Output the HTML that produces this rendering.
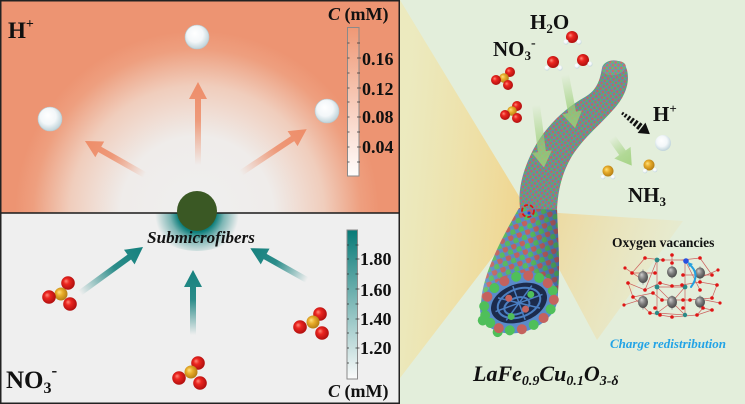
<!DOCTYPE html>
<html><head><meta charset="utf-8">
<style>
html,body{margin:0;padding:0;background:#fff;}
svg{display:block;}
text{font-family:"Liberation Serif",serif;font-weight:bold;fill:#111;}
</style></head>
<body>
<svg width="745" height="404" viewBox="0 0 745 404" xmlns="http://www.w3.org/2000/svg">
<defs>
  <radialGradient id="topbg" gradientUnits="userSpaceOnUse" cx="197" cy="213" r="182">
    <stop offset="0" stop-color="#efefef"/>
    <stop offset="0.42" stop-color="#efecea"/>
    <stop offset="0.7" stop-color="#f0cdbc"/>
    <stop offset="0.9" stop-color="#ee9f7f"/>
    <stop offset="1" stop-color="#ed9472"/>
  </radialGradient>
  <radialGradient id="glow" gradientUnits="userSpaceOnUse" cx="197" cy="213" r="42">
    <stop offset="0.45" stop-color="#0b7d7a" stop-opacity="1"/>
    <stop offset="0.65" stop-color="#0b7d7a" stop-opacity="0.5"/>
    <stop offset="1" stop-color="#0b7d7a" stop-opacity="0"/>
  </radialGradient>
  <linearGradient id="cbTop" x1="0" y1="0" x2="0" y2="1">
    <stop offset="0" stop-color="#ef9875"/>
    <stop offset="1" stop-color="#fffdfc"/>
  </linearGradient>
  <linearGradient id="cbBot" x1="0" y1="0" x2="0" y2="1">
    <stop offset="0" stop-color="#087a77"/>
    <stop offset="1" stop-color="#fbfbfb"/>
  </linearGradient>
  <linearGradient id="gs" x1="0" y1="0" x2="1" y2="0">
    <stop offset="0" stop-color="#ee8d69" stop-opacity="0"/>
    <stop offset="0.55" stop-color="#ee8d69" stop-opacity="0.85"/>
    <stop offset="1" stop-color="#ee8d69" stop-opacity="1"/>
  </linearGradient>
  <linearGradient id="gt" x1="0" y1="0" x2="1" y2="0">
    <stop offset="0" stop-color="#15817e" stop-opacity="0"/>
    <stop offset="0.55" stop-color="#15817e" stop-opacity="0.9"/>
    <stop offset="1" stop-color="#15817e" stop-opacity="1"/>
  </linearGradient>
  <linearGradient id="gg" x1="0" y1="0" x2="1" y2="0">
    <stop offset="0" stop-color="#9ccf78" stop-opacity="0"/>
    <stop offset="0.6" stop-color="#9ccf78" stop-opacity="0.7"/>
    <stop offset="1" stop-color="#9ccf78" stop-opacity="0.85"/>
  </linearGradient>
  <radialGradient id="gw" cx="0.45" cy="0.42" r="0.6" fx="0.4" fy="0.35">
    <stop offset="0" stop-color="#ffffff"/>
    <stop offset="0.55" stop-color="#f3f7f9"/>
    <stop offset="1" stop-color="#bcd1d8"/>
  </radialGradient>
  <radialGradient id="gr" cx="0.45" cy="0.45" r="0.6" fx="0.35" fy="0.35">
    <stop offset="0" stop-color="#ff8a7a"/>
    <stop offset="0.35" stop-color="#ec2620"/>
    <stop offset="1" stop-color="#a80c0c"/>
  </radialGradient>
  <radialGradient id="gy" cx="0.45" cy="0.45" r="0.6" fx="0.35" fy="0.35">
    <stop offset="0" stop-color="#ffe27e"/>
    <stop offset="0.4" stop-color="#e9ae2c"/>
    <stop offset="1" stop-color="#b07810"/>
  </radialGradient>
  <radialGradient id="ggr" cx="0.45" cy="0.45" r="0.6" fx="0.35" fy="0.3">
    <stop offset="0" stop-color="#d0d0d0"/>
    <stop offset="0.5" stop-color="#7e7e7e"/>
    <stop offset="1" stop-color="#444"/>
  </radialGradient>
  <linearGradient id="beamL" gradientUnits="userSpaceOnUse" x1="528" y1="211" x2="400" y2="200">
    <stop offset="0" stop-color="#f4cb72" stop-opacity="0.75"/>
    <stop offset="1" stop-color="#f6e49c" stop-opacity="0.45"/>
  </linearGradient>
  <linearGradient id="beamR" gradientUnits="userSpaceOnUse" x1="528" y1="211" x2="690" y2="265">
    <stop offset="0" stop-color="#f4c86e" stop-opacity="0.65"/>
    <stop offset="1" stop-color="#f6dc9c" stop-opacity="0.1"/>
  </linearGradient>
  <pattern id="pFine" width="4" height="4" patternUnits="userSpaceOnUse" patternTransform="rotate(-35)">
    <rect width="4" height="4" fill="#6590c8"/>
    <circle cx="1" cy="1" r="1.45" fill="#cf6e68"/>
    <circle cx="3" cy="3" r="1.45" fill="#66bd6c"/>
  </pattern>
  <pattern id="pBig" width="9" height="9" patternUnits="userSpaceOnUse" patternTransform="rotate(-20)">
    <rect width="9" height="9" fill="#5a8bca"/>
    <circle cx="2.3" cy="2.3" r="3" fill="#c4625e"/>
    <circle cx="6.8" cy="6.8" r="3" fill="#58bd5e"/>
  </pattern>
  <linearGradient id="tubeShade" x1="0" y1="0" x2="1" y2="0">
    <stop offset="0" stop-color="#ffffff" stop-opacity="0.15"/>
    <stop offset="0.6" stop-color="#000" stop-opacity="0"/>
    <stop offset="1" stop-color="#0a1a40" stop-opacity="0.3"/>
  </linearGradient>
  <clipPath id="clipBot"><rect x="0" y="213" width="399" height="191"/></clipPath>
</defs>

<!-- ===== RIGHT PANEL ===== -->
<rect x="399" y="0" width="346" height="404" fill="#e3eedb"/>
<polygon points="528,211 400,0 400,378" fill="url(#beamL)"/>
<polygon points="528,211 683,221 597,340" fill="url(#beamR)"/>

<!-- fiber lower body -->
<path d="M519,208 L557,208 C558,240 561,270 557,302 L481,302 C483,276 497,246 519,208 Z" fill="url(#pBig)"/>
<path d="M519,208 L557,208 C558,240 561,270 557,302 L481,302 C483,276 497,246 519,208 Z" fill="url(#tubeShade)"/>
<!-- fiber upper body -->
<path d="M520,208 C518,190 522,172 533,150 C545,127 565,108 585,97 C597,90 600,80 602,68 C604,58 624,57 627,70 C630,82 626,96 613,110 C600,125 585,136 572,156 C562,173 558,190 557,210 Z" fill="url(#pFine)"/>
<path d="M520,208 C518,190 522,172 533,150 C545,127 565,108 585,97 C597,90 600,80 602,68 C604,58 624,57 627,70 C630,82 626,96 613,110 C600,125 585,136 572,156 C562,173 558,190 557,210 Z" fill="#1a2f5a" opacity="0.1"/>
<ellipse cx="614" cy="68" rx="12" ry="7" fill="url(#pFine)" transform="rotate(-10 614 68)"/>

<!-- cap -->
<g transform="translate(519 303) rotate(-20)">
  <ellipse cx="0" cy="0" rx="40" ry="29" fill="#5a8bca"/>
  <ellipse cx="0" cy="0" rx="29" ry="19" fill="#1c2b4c"/>
  <ellipse cx="0" cy="0" rx="22" ry="14" fill="none" stroke="#4b7fc2" stroke-width="2"/>
  <ellipse cx="-3" cy="2" rx="13" ry="8" fill="none" stroke="#4b7fc2" stroke-width="2"/>
  <path d="M-25,0 L25,0 M0,-18 L0,18 M-18,-12 L18,12 M-18,12 L18,-12" stroke="#4b7fc2" stroke-width="1.5"/>
  <g fill="#4fbf5a">
    <circle cx="36" cy="0" r="5"/><circle cx="27.6" cy="16.7" r="5"/><circle cx="6.3" cy="25.6" r="5"/>
    <circle cx="-18" cy="22.5" r="5"/><circle cx="-33.8" cy="8.9" r="5"/><circle cx="-33.8" cy="-8.9" r="5"/>
    <circle cx="-18" cy="-22.5" r="5"/><circle cx="6.3" cy="-25.6" r="5"/><circle cx="27.6" cy="-16.7" r="5"/>
    <circle cx="-36" cy="0" r="5"/><circle cx="-12" cy="10" r="3.5"/><circle cx="14" cy="-4" r="3.5"/>
    <circle cx="-40" cy="4" r="5"/><circle cx="-30" cy="20" r="5"/>
  </g>
  <g fill="#c4625e">
    <circle cx="33.8" cy="8.9" r="5"/><circle cx="18" cy="22.5" r="5"/><circle cx="-6.3" cy="25.6" r="5"/>
    <circle cx="-27.6" cy="16.7" r="5"/><circle cx="-27.6" cy="-16.7" r="5"/><circle cx="-6.3" cy="-25.6" r="5"/>
    <circle cx="18" cy="-22.5" r="5"/><circle cx="33.8" cy="-8.9" r="5"/>
    <circle cx="4" cy="8" r="3.5"/><circle cx="-8" cy="-8" r="3.5"/>
  </g>
</g>
<!-- neck red dashed circle -->
<circle cx="528" cy="211" r="6" fill="none" stroke="#e01010" stroke-width="1.8" stroke-dasharray="4 2"/>
<circle cx="529" cy="213" r="1.5" fill="#2040d0"/>

<!-- green arrows -->
<path transform="translate(565 75) rotate(79.3)" d="M0,-4H38V-10L54,0L38,10V4H0Z" fill="url(#gg)"/>
<path transform="translate(536 105) rotate(82.8)" d="M0,-4H47V-10L63,0L47,10V4H0Z" fill="url(#gg)"/>
<path transform="translate(612 138) rotate(54.5)" d="M0,-4H18V-10L34,0L18,10V4H0Z" fill="url(#gg)"/>

<!-- black dashed arrow -->
<g transform="translate(622 113) rotate(37.2)" fill="#111">
  <rect x="0" y="-1.5" width="1.8" height="3"/>
  <rect x="3.5" y="-2" width="2" height="4"/>
  <rect x="7.5" y="-2.5" width="2.2" height="5"/>
  <rect x="11.5" y="-3" width="2.4" height="6"/>
  <rect x="15.8" y="-3.3" width="2.6" height="6.6"/>
  <rect x="20.3" y="-3.6" width="2.8" height="7.2"/>
  <polygon points="24.5,-6.5 35,0 24.5,6.5"/>
</g>

<!-- right panel molecules -->
<g>
  <circle cx="510" cy="72" r="5" fill="url(#gr)"/>
  <circle cx="504" cy="78" r="4.8" fill="url(#gy)"/>
  <circle cx="496" cy="80" r="5" fill="url(#gr)"/>
  <circle cx="508" cy="85" r="5" fill="url(#gr)"/>
  <circle cx="517" cy="106" r="5" fill="url(#gr)"/>
  <circle cx="512" cy="111" r="4.8" fill="url(#gy)"/>
  <circle cx="505" cy="115" r="5" fill="url(#gr)"/>
  <circle cx="517" cy="118" r="5" fill="url(#gr)"/>

  <circle cx="572" cy="37" r="6" fill="url(#gr)"/>
  <circle cx="566" cy="42" r="2.6" fill="url(#gw)"/>
  <circle cx="579" cy="42" r="2.6" fill="url(#gw)"/>
  <circle cx="553" cy="62" r="6" fill="url(#gr)"/>
  <circle cx="547" cy="68" r="2.6" fill="url(#gw)"/>
  <circle cx="560" cy="68" r="2.6" fill="url(#gw)"/>
  <circle cx="583" cy="60" r="6" fill="url(#gr)"/>
  <circle cx="577" cy="66" r="2.6" fill="url(#gw)"/>
  <circle cx="590" cy="64" r="2.6" fill="url(#gw)"/>

  <circle cx="663" cy="143" r="8" fill="url(#gw)"/>

  <circle cx="608" cy="171" r="5.5" fill="url(#gy)"/>
  <circle cx="603" cy="177" r="2.3" fill="url(#gw)"/>
  <circle cx="613" cy="177" r="2.3" fill="url(#gw)"/>
  <circle cx="649" cy="165" r="5.5" fill="url(#gy)"/>
  <circle cx="645" cy="171" r="2.3" fill="url(#gw)"/>
  <circle cx="655" cy="170" r="2.3" fill="url(#gw)"/>
</g>

<!-- crystal structure -->
<g stroke-linecap="round">
  <g stroke="#c84a4a" stroke-width="0.7" opacity="0.85" fill="none">
    <path d="M657,260 L685,260 L685,287 L657,287 Z M657,287 L657,313 L685,315 L685,287"/>
    <path d="M645,258 L663,260 M672,255 L672,263 M682,260 L700,258 M632,273 L655,273 M683,275 L712,275"/>
    <path d="M628,283 L645,290 L660,283 L672,286 L682,285 L700,282 L717,285"/>
    <path d="M633,297 L653,293 L662,300 L683,300 L690,300 L712,298"/>
    <path d="M650,313 L660,315 L672,317 L697,315 L703,308 L712,310"/>
    <path d="M645,258 L632,273 M700,258 L712,275 M628,283 L633,297 M717,285 L712,298 M633,297 L650,313 M712,310 L697,315"/>
    <path d="M657,260 L645,290 M685,260 L700,290 M657,287 L672,302 L685,287 M657,313 L672,302 L685,315"/>
    <path d="M625,268 L640,278 M718,270 L704,276 M624,305 L640,300 M720,303 L705,300"/>
  </g>
  <g stroke="#999" stroke-width="1.2">
    <line x1="643" y1="270" x2="643" y2="284"/><line x1="672" y1="266" x2="672" y2="278"/>
    <line x1="700" y1="267" x2="700" y2="279"/><line x1="643" y1="296" x2="643" y2="309"/>
    <line x1="672" y1="296" x2="672" y2="309"/><line x1="700" y1="296" x2="700" y2="308"/>
  </g>
  <g fill="url(#ggr)">
    <ellipse cx="643" cy="277" rx="5" ry="6"/><ellipse cx="672" cy="272" rx="5" ry="5.5"/>
    <ellipse cx="700" cy="273" rx="5" ry="5.5"/><ellipse cx="643" cy="302" rx="5" ry="6"/>
    <ellipse cx="672" cy="302" rx="5" ry="6"/><ellipse cx="700" cy="302" rx="5" ry="5.5"/>
  </g>
  <g fill="#2a8a88">
    <circle cx="657" cy="260" r="2.4"/><circle cx="657" cy="287" r="2.4"/><circle cx="685" cy="287" r="2.4"/>
    <circle cx="657" cy="313" r="2.2"/><circle cx="685" cy="315" r="2.2"/>
  </g>
  <circle cx="686" cy="261" r="2.8" fill="#2850e0"/>
  <g fill="#e01515">
    <circle cx="645" cy="258" r="1.8"/><circle cx="663" cy="260" r="1.8"/><circle cx="672" cy="255" r="1.8"/>
    <circle cx="672" cy="263" r="1.8"/><circle cx="700" cy="258" r="1.8"/><circle cx="632" cy="273" r="1.8"/>
    <circle cx="655" cy="273" r="1.8"/><circle cx="683" cy="275" r="1.8"/><circle cx="712" cy="275" r="1.8"/>
    <circle cx="628" cy="283" r="1.8"/><circle cx="660" cy="283" r="1.8"/><circle cx="682" cy="285" r="1.8"/>
    <circle cx="700" cy="282" r="1.8"/><circle cx="717" cy="285" r="1.8"/><circle cx="645" cy="290" r="1.8"/>
    <circle cx="672" cy="286" r="1.8"/><circle cx="700" cy="290" r="1.8"/><circle cx="633" cy="297" r="1.8"/>
    <circle cx="653" cy="293" r="1.8"/><circle cx="662" cy="300" r="1.8"/><circle cx="683" cy="300" r="1.8"/>
    <circle cx="712" cy="298" r="1.8"/><circle cx="655" cy="308" r="1.8"/><circle cx="683" cy="308" r="1.8"/>
    <circle cx="690" cy="300" r="1.8"/><circle cx="703" cy="308" r="1.8"/><circle cx="712" cy="310" r="1.8"/>
    <circle cx="650" cy="313" r="1.8"/><circle cx="672" cy="317" r="1.8"/><circle cx="660" cy="315" r="1.8"/>
    <circle cx="697" cy="315" r="1.8"/><circle cx="625" cy="268" r="1.6"/><circle cx="718" cy="270" r="1.6"/>
    <circle cx="624" cy="305" r="1.6"/><circle cx="720" cy="303" r="1.6"/>
  </g>
  <path d="M689,264 Q701,274 691,287" fill="none" stroke="#22a0e0" stroke-width="2"/>
  <polygon points="688,262 693,264 689,267" fill="#22a0e0"/>
</g>

<!-- right panel text -->
<text x="530" y="29" font-size="21">H<tspan font-size="13" dy="4">2</tspan><tspan dy="-4">O</tspan></text>
<text x="493" y="56" font-size="21">NO<tspan font-size="13" dy="4">3</tspan><tspan font-size="14" dy="-13">-</tspan></text>
<text x="653" y="121" font-size="21">H<tspan font-size="13" dy="-8">+</tspan></text>
<text x="628" y="202" font-size="21">NH<tspan font-size="13" dy="4">3</tspan></text>
<text x="612" y="247" font-size="13.5">Oxygen vacancies</text>
<text x="610" y="348" font-size="13" font-style="italic" style="fill:#22a3e6">Charge redistribution</text>
<text x="473" y="381" font-size="22" font-style="italic">LaFe<tspan font-size="14" dy="4">0.9</tspan><tspan dy="-4">Cu</tspan><tspan font-size="14" dy="4">0.1</tspan><tspan dy="-4">O</tspan><tspan font-size="14" dy="4">3-δ</tspan></text>

<!-- ===== LEFT PANEL ===== -->
<rect x="0" y="0" width="399" height="213" fill="url(#topbg)"/>
<rect x="0" y="213" width="399" height="191" fill="#efefef"/>
<ellipse cx="197" cy="213" rx="50" ry="38" fill="url(#glow)" clip-path="url(#clipBot)"/>

<!-- salmon arrows -->
<path transform="translate(198 165) rotate(-90)" d="M0,-3H66V-9L83,0L66,9V3H0Z" fill="url(#gs)"/>
<path transform="translate(145 175) rotate(-150.5)" d="M0,-3H52V-9L69,0L52,9V3H0Z" fill="url(#gs)"/>
<path transform="translate(241 173) rotate(-33.7)" d="M0,-3H62V-9L79,0L62,9V3H0Z" fill="url(#gs)"/>

<!-- H+ spheres -->
<circle cx="197" cy="37" r="12" fill="url(#gw)" stroke="#b7c9cf" stroke-width="0.6"/>
<circle cx="50" cy="119" r="12" fill="url(#gw)" stroke="#b7c9cf" stroke-width="0.6"/>
<circle cx="327" cy="111" r="12" fill="url(#gw)" stroke="#b7c9cf" stroke-width="0.6"/>

<!-- teal arrows -->
<path transform="translate(80 293) rotate(-36.1)" d="M0,-3H61V-9L78,0L61,9V3H0Z" fill="url(#gt)"/>
<path transform="translate(193 335) rotate(-90)" d="M0,-3H48V-9L65,0L48,9V3H0Z" fill="url(#gt)"/>
<path transform="translate(307 280) rotate(-150.7)" d="M0,-3H48V-9L65,0L48,9V3H0Z" fill="url(#gt)"/>

<!-- NO3 molecules left -->
<circle cx="68" cy="283" r="6.8" fill="url(#gr)"/>
<circle cx="61" cy="294" r="6.5" fill="url(#gy)"/>
<circle cx="49" cy="297" r="6.8" fill="url(#gr)"/>
<circle cx="70" cy="304" r="6.8" fill="url(#gr)"/>

<circle cx="198" cy="363" r="6.8" fill="url(#gr)"/>
<circle cx="191" cy="372" r="6.5" fill="url(#gy)"/>
<circle cx="179" cy="378" r="6.8" fill="url(#gr)"/>
<circle cx="200" cy="383" r="6.8" fill="url(#gr)"/>

<circle cx="320" cy="314" r="6.8" fill="url(#gr)"/>
<circle cx="313" cy="322" r="6.5" fill="url(#gy)"/>
<circle cx="300" cy="327" r="6.8" fill="url(#gr)"/>
<circle cx="322" cy="333" r="6.8" fill="url(#gr)"/>

<!-- divider -->
<line x1="0" y1="213" x2="399" y2="213" stroke="#1a1a1a" stroke-width="1.5"/>
<!-- fiber cross-section -->
<circle cx="197" cy="211" r="20" fill="#3a5824"/>

<!-- colorbar top -->
<rect x="347.5" y="27.5" width="11.5" height="148.5" fill="url(#cbTop)" stroke="#8a8a8a" stroke-width="1"/>
<g stroke="#333" stroke-width="0.8">
  <path d="M347.5,43h2M347.5,58h2M347.5,73h2M347.5,88h2M347.5,102h2M347.5,117h2M347.5,132h2M347.5,147h2M347.5,162h2"/>
  <path d="M357,43h3M357,58h4M357,73h3M357,88h4M357,102h3M357,117h4M357,132h3M357,147h4M357,162h3"/>
</g>
<text x="362" y="65" font-size="18">0.16</text>
<text x="362" y="95" font-size="18">0.12</text>
<text x="362" y="123" font-size="18">0.08</text>
<text x="362" y="153" font-size="18">0.04</text>
<text x="328" y="20" font-size="18"><tspan font-style="italic">C</tspan> (mM)</text>

<!-- colorbar bottom -->
<rect x="347" y="230" width="10.5" height="149" fill="url(#cbBot)" stroke="#8a8a8a" stroke-width="1"/>
<g stroke="#333" stroke-width="0.8">
  <path d="M347,245h2M347,259h2M347,274h2M347,289h2M347,304h2M347,319h2M347,333h2M347,348h2M347,363h2"/>
  <path d="M355.5,245h3M355.5,259h4M355.5,274h3M355.5,289h4M355.5,304h3M355.5,319h4M355.5,333h3M355.5,348h4M355.5,363h3"/>
</g>
<text x="360" y="265" font-size="18">1.80</text>
<text x="360" y="296" font-size="18">1.60</text>
<text x="360" y="325" font-size="18">1.40</text>
<text x="360" y="354" font-size="18">1.20</text>
<text x="328" y="397" font-size="18"><tspan font-style="italic">C</tspan> (mM)</text>

<!-- left panel labels -->
<text x="8" y="38" font-size="23">H<tspan font-size="14" dy="-10">+</tspan></text>
<text x="6" y="388" font-size="25">NO<tspan font-size="16" dy="5">3</tspan><tspan font-size="17" dy="-17">-</tspan></text>
<text x="201" y="243" font-size="17" font-style="italic" text-anchor="middle">Submicrofibers</text>

<!-- left panel border -->
<rect x="0.75" y="0.75" width="398.5" height="402.5" fill="none" stroke="#222" stroke-width="1.5"/>
</svg>
</body></html>
